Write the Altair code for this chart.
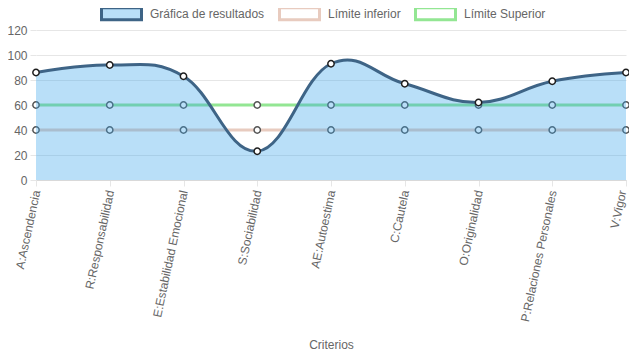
import altair as alt
import pandas as pd

categories = [
    "A:Ascendencia",
    "R:Responsabilidad",
    "E:Estabilidad Emocional",
    "S:Sociabilidad",
    "AE:Autoestima",
    "C:Cautela",
    "O:Originalidad",
    "P:Relaciones Personales",
    "V:Vigor",
]
resultados = [86, 92, 83, 23, 93, 77, 62, 79, 86]
limite_inferior = [40, 40, 40, 40, 40, 40, 40, 40, 40]
limite_superior = [60, 60, 60, 60, 60, 60, 60, 60, 60]
y_ticks = [0, 20, 40, 60, 80, 100, 120]

series_names = ["Gráfica de resultados", "Límite inferior", "Límite Superior"]
series_colors = ["#3e6486", "#e8cbbf", "#93e693"]
fill_blue = "rgba(54,162,235,0.35)"
FONT = "Liberation Sans"

rows = []
for name, vals in zip(series_names, [resultados, limite_inferior, limite_superior]):
    for c, v in zip(categories, vals):
        rows.append({"serie": name, "criterio": c, "valor": v})
df = pd.DataFrame(rows)

x = alt.X(
    "criterio:N",
    sort=categories,
    scale=alt.Scale(type="point", padding=0, domain=categories),
    axis=alt.Axis(
        title="Criterios",
        labelAngle=282,
        labelAlign="right",
        labelBaseline="middle",
        labelPadding=4,
        labelOffset=alt.ExprRef(expr="datum.value === '" + categories[-1] + "' ? -4 : 0"),
        tickSize=6,
        titleY=164,
        titleBaseline="middle",
        domainColor="#d9d9d9",
        domainWidth=1,
    ),
)
y = alt.Y(
    "valor:Q",
    scale=alt.Scale(domain=[0, 120], nice=False),
    axis=alt.Axis(title=None, values=y_ticks, tickSize=6, labelPadding=3, domain=False),
)

base = alt.Chart(df).encode(x=x, y=y)
limits = base.transform_filter("datum.serie != 'Gráfica de resultados'")
res = base.transform_filter("datum.serie == 'Gráfica de resultados'")

legend = alt.Legend(
    title=None,
    orient="none",
    legendX=64,
    legendY=-38,
    direction="horizontal",
    symbolType="M-1,-0.3L1,-0.3L1,0.3L-1,0.3Z",
    symbolSize=1600,
    symbolStrokeWidth=3,
    symbolFillColor=alt.ExprRef(
        expr="datum.value === 'Gráfica de resultados' ? '" + fill_blue + "' : '#ffffff'"
    ),
    labelFont=FONT,
    labelFontSize=12,
    labelColor="#666666",
    labelOffset=7,
    columnPadding=8,
    padding=0,
)

lines = limits.mark_line(strokeWidth=3).encode(
    stroke=alt.Stroke(
        "serie:N",
        scale=alt.Scale(domain=series_names, range=series_colors),
        legend=legend,
    ),
    detail="serie:N",
)
limit_points = limits.mark_point(
    filled=True, fill="#ffffff", stroke="#555555", strokeWidth=1.5, size=40, opacity=1
).encode(detail="serie:N")
area = res.mark_area(interpolate="cardinal", tension=-0.2, color=fill_blue)
res_line = res.mark_line(interpolate="cardinal", tension=-0.2, color="#3e6486", strokeWidth=3)
res_points = res.mark_point(
    filled=True, fill="#ffffff", stroke="#1e1e1e", strokeWidth=1.5, size=40, opacity=1
)

chart = (
    alt.layer(lines, limit_points, area, res_line, res_points)
    .properties(
        width=590,
        height=150,
        autosize=alt.AutoSizeParams(type="none"),
        padding={"left": 28, "top": 22, "right": 3, "bottom": 171},
    )
    .configure(font=FONT)
    .configure_view(stroke=None)
    .configure_axis(
        labelFont=FONT,
        labelFontSize=12,
        labelColor="#666666",
        titleFont=FONT,
        titleFontSize=12,
        titleFontWeight="normal",
        titleColor="#666666",
        gridColor="#e6e6e6",
        tickColor="#e6e6e6",
    )
)

chart.save("out.html", embed_options={"renderer": "svg", "actions": False})
